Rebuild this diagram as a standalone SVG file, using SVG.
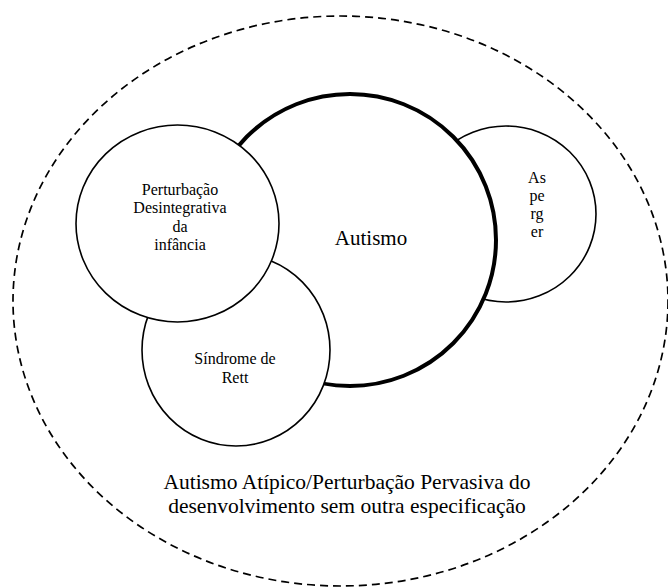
<svg xmlns="http://www.w3.org/2000/svg" width="668" height="587" viewBox="0 0 668 587">
<style>
.c{fill:#fff;stroke:#000;stroke-width:1.6}
.thick{fill:#fff;stroke:#000;stroke-width:4}
.dash{fill:none;stroke:#000;stroke-width:1.7;stroke-dasharray:8 5}
.t{fill:#000;text-anchor:middle}
.s{font-size:16px}
.l{font-size:21px}
.b{font-size:21.5px}
</style>
<rect width="668" height="587" fill="#fff"/>
<g font-family="'Liberation Serif', 'Times New Roman', Tinos, 'DejaVu Serif', serif">
<g id="outer">
<ellipse class="dash" cx="340.5" cy="301" rx="327.5" ry="285"/>
<text class="t b" x="347" y="489">Autismo Atípico/Perturbação Pervasiva do</text>
<text class="t b" x="347" y="513">desenvolvimento sem outra especificação</text>
</g>
<g id="asperger">
<ellipse class="c" cx="506" cy="214" rx="90" ry="88"/>
<text class="t s" x="537" y="183">As</text>
<text class="t s" x="537" y="201">pe</text>
<text class="t s" x="537" y="219">rg</text>
<text class="t s" x="537" y="237">er</text>
</g>
<g id="autismo">
<circle class="thick" cx="350" cy="240" r="146"/>
<text class="t l" x="371" y="245">Autismo</text>
</g>
<g id="rett">
<ellipse class="c" cx="236" cy="350" rx="94" ry="96"/>
<text class="t s" x="235" y="364">Síndrome de</text>
<text class="t s" x="235" y="383">Rett</text>
</g>
<g id="perturbacao">
<ellipse class="c" cx="177.5" cy="223.5" rx="101.5" ry="98.5"/>
<text class="t s" x="180" y="195">Perturbação</text>
<text class="t s" x="180" y="213">Desintegrativa</text>
<text class="t s" x="180" y="232">da</text>
<text class="t s" x="180" y="250">infância</text>
</g>
<g id="connectors"/>
</g>
</svg>
